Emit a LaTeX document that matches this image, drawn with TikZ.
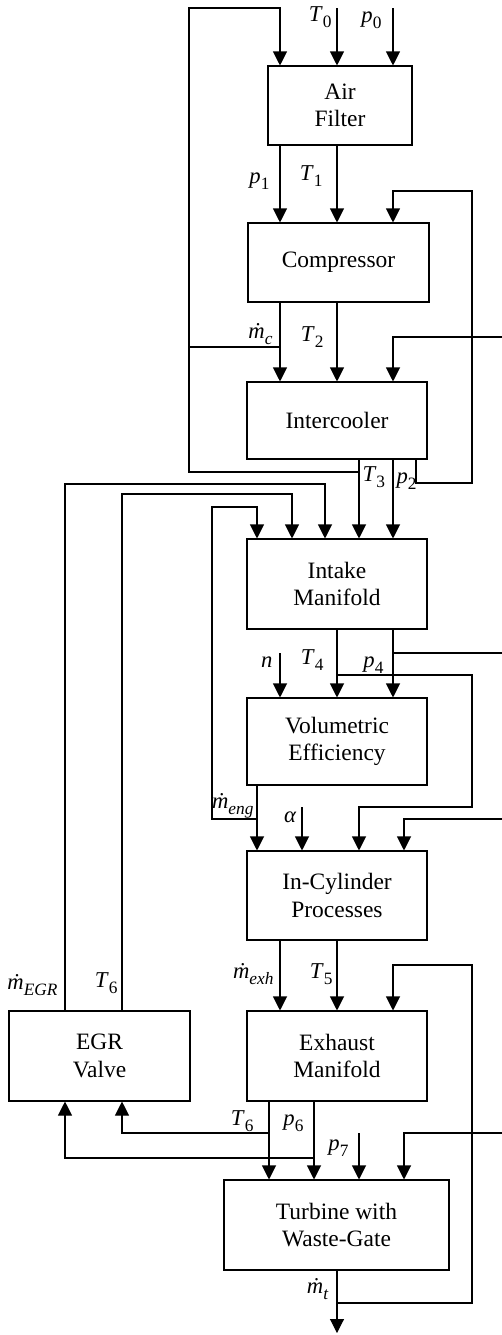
\documentclass[tikz,border=0pt]{standalone}
\usepackage{fontspec}
\setmainfont{Liberation Serif}
\usetikzlibrary{arrows.meta}
\newcommand\sbs[1]{\raisebox{-4.5pt}{\fontsize{13}{13}\selectfont #1}}
\newcommand\lbl[2]{\textit{#1}\sbs{#2}}
\newcommand\mdot{\textit{\.{m}}}
\begin{document}
\begin{tikzpicture}[x=0.75pt,y=-0.75pt,line width=0.8pt,
  blk/.style 2 args={draw, line width=0.8pt, minimum width=#1*0.75pt, minimum height=#2*0.75pt,
    inner sep=0pt, align=center, font=\fontsize{17.6}{20.5}\selectfont},
  lab/.style={anchor=base east, inner sep=0pt, font=\fontsize{17}{20}\selectfont},
  labw/.style={lab, anchor=base west},
  arr/.style={-{Triangle[width=10.5pt,length=10.5pt]}}]
\useasboundingbox (0,0) rectangle (502,1335);
% blocks
\node[blk={144}{79}] (AF) at (340,105.5) {Air\\Filter};
\node[blk={181}{79}] (CP) at (338.5,262.5) {Compressor};
\node[blk={180}{77}] (IC) at (337,420.5) {Intercooler};
\node[blk={180}{90}] (IM) at (337,584) {Intake\\Manifold};
\node[blk={180}{87}] (VE) at (337,741.5) {Volumetric\\Efficiency};
\node[blk={180}{89}] (CY) at (337,895.5) {In-Cylinder\\Processes};
\node[blk={180}{90}] (EM) at (337,1056) {Exhaust\\Manifold};
\node[blk={181}{90}] (EG) at (99.5,1056) {EGR\\Valve};
\node[blk={225}{90}] (TB) at (336.5,1225) {Turbine with\\Waste-Gate};
% top inputs
\coordinate (T0in) at (337,8);
\coordinate (P0in) at (393,8);
\draw[arr] (T0in) -- (T0in |- AF.north);
\draw[arr] (P0in) -- (P0in |- AF.north);
% AF -> CP
\draw[arr] (280,0 |- AF.south) -- (280,0 |- CP.north);
\draw[arr] (337,0 |- AF.south) -- (337,0 |- CP.north);
% CP -> IC
\draw[arr] (280,0 |- CP.south) -- (280,0 |- IC.north);
\draw[arr] (337,0 |- CP.south) -- (337,0 |- IC.north);
% T3 and left feedback loop
\draw[arr] (359,0 |- IC.south) -- (359,0 |- IM.north);
\draw[arr] (359,472) -- (189,472) -- (189,8) -- (280,8) -- (280,0 |- AF.north);
\draw (189,347) -- (280,347);
% compressor loop
\draw[arr] (416,0 |- IC.south) -- (416,483) -- (472,483) -- (472,191) -- (393,191) -- (393,0 |- CP.north);
% external input into intercooler
\coordinate (ICin) at (502,337);
\draw[arr] (ICin) -- (393,337) -- (393,0 |- IC.north);
% p2
\draw[arr] (393,0 |- IC.south) -- (393,0 |- IM.north);
% EGR feedback to intake manifold
\draw[arr] (65,0 |- EG.north) -- (65,484) -- (325,484) -- (325,0 |- IM.north);
\draw[arr] (122,0 |- EG.north) -- (122,494) -- (292,494) -- (292,0 |- IM.north);
\draw[arr] (257,819) -- (212,819) -- (212,507) -- (257,507) -- (257,0 |- IM.north);
% IM -> VE
\draw[arr] (337,0 |- IM.south) -- (337,0 |- VE.north);
\draw[arr] (393,0 |- IM.south) -- (393,0 |- VE.north);
\coordinate (nin) at (280,653);
\draw[arr] (nin) -- (nin |- VE.north);
\coordinate (p4out) at (502,653);
\draw (393,653) -- (p4out);
\draw[arr] (337,675) -- (472,675) -- (472,807) -- (359,807) -- (359,0 |- CY.north);
% VE -> CY
\draw[arr] (257,0 |- VE.south) -- (257,0 |- CY.north);
\coordinate (ain) at (302,807);
\draw[arr] (ain) -- (ain |- CY.north);
\coordinate (CYin) at (502,819);
\draw[arr] (CYin) -- (404,819) -- (404,0 |- CY.north);
% CY -> EM
\draw[arr] (280,0 |- CY.south) -- (280,0 |- EM.north);
\draw[arr] (337,0 |- CY.south) -- (337,0 |- EM.north);
\draw[arr] (337,1303) -- (472,1303) -- (472,965) -- (393,965) -- (393,0 |- EM.north);
% EM -> TB and EGR
\draw[arr] (269,0 |- EM.south) -- (269,0 |- TB.north);
\draw[arr] (314,0 |- EM.south) -- (314,0 |- TB.north);
\draw[arr] (269,1133) -- (122,1133) -- (122,0 |- EG.south);
\draw[arr] (314,1158) -- (65,1158) -- (65,0 |- EG.south);
\coordinate (p7in) at (359,1133);
\draw[arr] (p7in) -- (p7in |- TB.north);
\coordinate (TBin) at (502,1133);
\draw[arr] (TBin) -- (404,1133) -- (404,0 |- TB.north);
\coordinate (tout) at (337,1333);
\draw[arr] (337,0 |- TB.south) -- (tout);
% labels
\node[lab] (lT0) at (332,21) {\lbl{T}{0}};
\node[lab] (lp0) at (382,22) {\lbl{p}{0}};
\node[lab] (lp1) at (270,183) {\lbl{p}{1}};
\node[lab] (lT1) at (323,180) {\lbl{T}{1}};
\node[lab] (lmc) at (273,338) {\mdot\sbs{\textit{c}}};
\node[lab] (lT2) at (324,341) {\lbl{T}{2}};
\node[labw] (lT3) at (362,481) {\lbl{T}{3}};
\node[labw] (lp2) at (396,483) {\lbl{p}{2}};
\node[lab] (ln) at (273,667) {\textit{n}};
\node[lab] (lT4) at (324,664) {\lbl{T}{4}};
\node[lab] (lp4) at (384,667) {\lbl{p}{4}};
\node[lab] (lme) at (254,808) {\mdot\sbs{\textit{eng}}};
\node[lab] (la) at (297,822) {\textit{α}};
\node[lab] (lmx) at (274,978) {\mdot\sbs{\textit{exh}}};
\node[lab] (lT5) at (333,978) {\lbl{T}{5}};
\node[lab] (lmg) at (58,989) {\mdot\sbs{\textit{EGR}}};
\node[lab] (lT6a) at (118,987) {\lbl{T}{6}};
\node[lab] (lT6b) at (254,1125) {\lbl{T}{6}};
\node[lab] (lp6) at (304,1125) {\lbl{p}{6}};
\node[lab] (lp7) at (349,1150) {\lbl{p}{7}};
\node[lab] (lmt) at (329,1293) {\mdot\sbs{\textit{t}}};
\end{tikzpicture}
\end{document}
